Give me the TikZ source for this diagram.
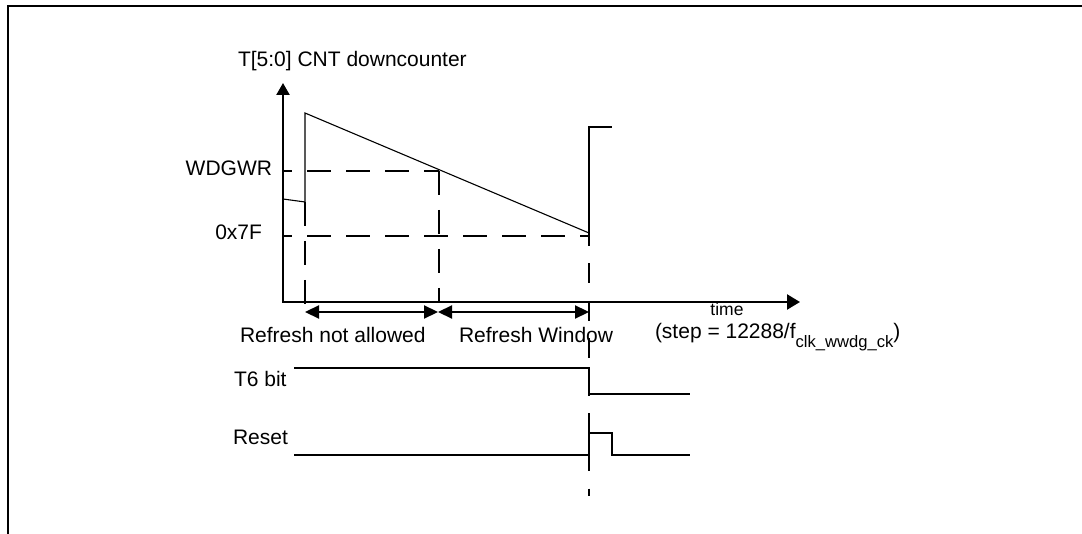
\documentclass[tikz,border=0pt]{standalone}
\usepackage{fontspec}
\setmainfont{Liberation Sans}
\usetikzlibrary{arrows.meta}
\begin{document}
\begin{tikzpicture}[x=1pt,y=-1pt,
  lbl/.style={inner sep=0pt,outer sep=0pt,font=\fontsize{21}{25}\selectfont},
  axis/.style={line width=2.3pt,line join=miter},
  thinline/.style={line width=1.1pt},
  thickline/.style={line width=2.4pt},
  dashline/.style={line width=2pt,dash pattern=on 24pt off 15pt,dash phase=15pt},
  sig/.style={line width=2.2pt},
  dbl/.style={line width=2.2pt,{Triangle[length=14pt,width=13pt]}-{Triangle[length=14pt,width=13pt]}},
  frameline/.style={line width=2pt}]
\useasboundingbox (0,0) rectangle (1082,534);
% frame
\coordinate (fBL) at (7.5,534);
\coordinate (fTR) at (1082,6);
\draw[frameline] (fBL) |- (fTR);

% labels
\node[lbl,anchor=base west] (ylab) at (238,67) {T[5:0] CNT downcounter};
\node[lbl,anchor=base east] (wdg) at (272,176) {WDGWR};
\node[lbl,anchor=base east] (h7f) at (262,240) {0x7F};
\node[lbl,anchor=base west] (rna) at (240,343) {Refresh not allowed};
\node[lbl,anchor=base west] (rw) at (459,343) {Refresh Window};
\node[lbl,anchor=base,font=\fontsize{17.5}{20}\selectfont] (time) at (727,316) {time};
\node[lbl,anchor=base west] (step) at (655,339) {(step = 12288/f\raisebox{-9pt}{\fontsize{16.6}{19}\selectfont clk\_wwdg\_ck})};
\node[lbl,anchor=base west] (t6) at (234,387) {T6 bit};
\node[lbl,anchor=base west] (rst) at (233,445) {Reset};

% axes
\coordinate (O) at (283,302);
\coordinate (Ytip) at (283,83);
\coordinate (Xtip) at (800,302);
\draw[axis,{Triangle[length=12pt,width=13pt]}-{Triangle[length=13pt,width=15pt]}] (Ytip) -- (O) -- (Xtip);

% counter waveform
\coordinate (c0) at (283,199);
\coordinate (c1) at (305,202);
\coordinate (c2) at (305,113);
\coordinate (c3) at (589,233);
\draw[thinline] (c0) -- (c1) -- (c2) -- (c3);
\coordinate (r0) at (589,236);
\coordinate (r1) at (589,127);
\coordinate (r2) at (612,127);
\draw[thickline] (r0) -- (r1) -- (r2);

% dashed guides
\coordinate (wL) at (283,171);
\coordinate (wR) at (439,171);
\draw[dashline] (wL) -- (wR);
\coordinate (hL) at (283,236);
\coordinate (hR) at (589,236);
\draw[dashline] (hL) -- (hR);
\coordinate (v1t) at (305,202);
\coordinate (v1b) at (305,312);
\draw[dashline,dash phase=0pt] (v1t) -- (v1b);
\coordinate (v2b) at (439,302);
\draw[dashline,dash phase=0pt] (wR) -- (v2b);
\coordinate (v3b) at (589,496);
\draw[line width=2pt,dash pattern=on 20pt off 17.5pt,dash phase=10pt] (hR) -- (v3b);

% interval arrows
\coordinate (a1) at (305,312);
\coordinate (a2) at (438,312);
\coordinate (a3) at (589,312);
\draw[dbl] (a1) -- (a2);
\draw[dbl] (a2) -- (a3);

% T6 bit
\coordinate (t0) at (294,368);
\coordinate (t1) at (589,368);
\coordinate (t2) at (589,394);
\coordinate (t3) at (690,394);
\draw[sig] (t0) -- (t1) -- (t2) -- (t3);

% Reset
\coordinate (s0) at (294,455);
\coordinate (s1) at (589,455);
\coordinate (s2) at (589,433);
\coordinate (s3) at (612,433);
\coordinate (s4) at (612,455);
\coordinate (s5) at (690,455);
\draw[sig] (s0) -- (s1) -- (s2) -- (s3) -- (s4) -- (s5);
\end{tikzpicture}
\end{document}
